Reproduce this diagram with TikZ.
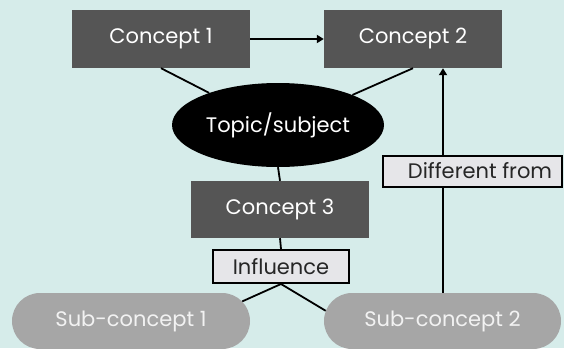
\documentclass[tikz,border=0pt]{standalone}
\usepackage{fontspec}
\setmainfont{Poppins}
\usetikzlibrary{shapes.geometric,shapes.misc,arrows.meta}
\definecolor{bgc}{HTML}{D6ECEA}
\definecolor{darkbox}{HTML}{555555}
\definecolor{pill}{HTML}{A6A6A6}
\definecolor{lbl}{HTML}{E6E6E9}
\begin{document}
\begin{tikzpicture}[x=1pt,y=-1pt,
  txt/.style={font=\fontsize{21}{24}\selectfont},
  dbox/.style={txt,rectangle,fill=darkbox,text=white,minimum width=178pt,minimum height=58pt,inner sep=0pt},
  topicnode/.style={txt,ellipse,fill=black,text=white,minimum width=212pt,minimum height=84pt,inner sep=0pt},
  lbox/.style={txt,rectangle,fill=lbl,draw=black,line width=2pt,text=black!85,inner sep=0pt},
  pillnode/.style={txt,rounded rectangle,fill=pill,text=white!95!black,minimum width=238pt,minimum height=56pt,inner sep=0pt},
  conn/.style={line width=1.8pt,draw=black},
  arr/.style={conn,-{Triangle[length=7pt,width=8pt]}}
]
\fill[bgc] (0,0) rectangle (564,348);
\useasboundingbox (0,0) rectangle (564,348);
\node[dbox] (c1) at (161,39) {Concept 1};
\node[dbox] (c2) at (413,39) {Concept 2};
\node[topicnode] (topic) at (278,125) {Topic/subject};
\node[dbox,minimum height=57pt] (c3) at (280,209.5) {Concept 3};
\node[lbox,minimum width=136pt,minimum height=33pt] (infl) at (281,266.5) {Influence};
\node[lbox,minimum width=179pt,minimum height=31pt] (diff) at (472.5,171) {\hspace*{15pt}Different from};
\node[pillnode] (s1) at (131,321) {Sub-concept 1};
\node[pillnode,minimum width=237pt] (s2) at (442.5,321) {Sub-concept 2};
\coordinate (vx) at (443,0);
\draw[arr] (c1.east) -- (c2.west);
\draw[conn] (c1.south) -- (topic.155);
\draw[conn] (c2.south) -- (topic.22);
\draw[conn] (topic.south) -- (c3.north);
\draw[conn] (c3.south) -- (infl.north);
\draw[conn] (infl.south) -- (s1.10);
\draw[conn] (infl.south) -- (s2.175);
\draw[conn] (vx |- s2.north) -- (vx |- diff.south);
\draw[arr] (vx |- diff.north) -- (vx |- c2.south);
\end{tikzpicture}
\end{document}
